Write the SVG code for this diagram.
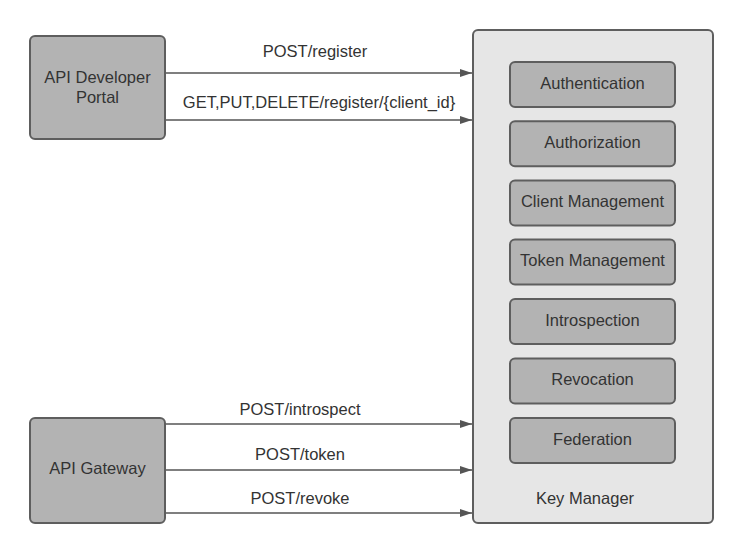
<svg xmlns="http://www.w3.org/2000/svg" width="743" height="554" viewBox="0 0 743 554">
<defs>
<style>
.box{fill:#b3b3b3;stroke:#5e5e5e;stroke-width:2}
.inner{fill:#b3b3b3;stroke:#5e5e5e;stroke-width:2}
.outer{fill:#e6e6e6;stroke:#5e5e5e;stroke-width:2}
text{font-family:"Liberation Sans",Arial,sans-serif;font-size:16.5px;fill:#333333;text-anchor:middle}
.conn{stroke:#555555;stroke-width:1.5;fill:none;marker-end:url(#arr)}
</style>
<marker id="arr" viewBox="0 0 12 8" refX="12" refY="4" markerWidth="12" markerHeight="8" markerUnits="userSpaceOnUse" orient="auto">
<path d="M0,0 L12,4 L0,8 Z" fill="#555555"/>
</marker>
</defs>
<rect width="743" height="554" fill="#ffffff"/>
<g id="key-manager">
<rect class="outer" x="473" y="30" width="240" height="493" rx="5"/>
<text x="585" y="504">Key Manager</text>
</g>
<g id="authentication"><rect class="inner" x="510" y="62" width="165" height="45" rx="5"/><text x="592.5" y="89">Authentication</text></g>
<g id="authorization"><rect class="inner" x="510" y="121.3" width="165" height="45" rx="5"/><text x="592.5" y="148">Authorization</text></g>
<g id="client-management"><rect class="inner" x="510" y="180.6" width="165" height="45" rx="5"/><text x="592.5" y="207">Client Management</text></g>
<g id="token-management"><rect class="inner" x="510" y="239.5" width="165" height="45" rx="5"/><text x="592.5" y="266">Token Management</text></g>
<g id="introspection"><rect class="inner" x="510" y="299" width="165" height="45" rx="5"/><text x="592.5" y="326">Introspection</text></g>
<g id="revocation"><rect class="inner" x="510" y="358.5" width="165" height="45" rx="5"/><text x="592.5" y="385">Revocation</text></g>
<g id="federation"><rect class="inner" x="510" y="418" width="165" height="45" rx="5"/><text x="592.5" y="445">Federation</text></g>
<g id="api-developer-portal">
<rect class="box" x="30" y="36" width="135" height="103" rx="5"/>
<text x="97.5" y="83">API Developer</text>
<text x="97.5" y="103">Portal</text>
</g>
<g id="api-gateway">
<rect class="box" x="30" y="418" width="135" height="105" rx="5"/>
<text x="97.5" y="474">API Gateway</text>
</g>
<g id="connectors">
<line class="conn" x1="166" y1="73" x2="472" y2="73"/>
<text x="315" y="57">POST/register</text>
<line class="conn" x1="166" y1="120" x2="472" y2="120"/>
<text x="319" y="108">GET,PUT,DELETE/register/{client_id}</text>
<line class="conn" x1="166" y1="424" x2="472" y2="424"/>
<text x="300" y="415">POST/introspect</text>
<line class="conn" x1="166" y1="470" x2="472" y2="470"/>
<text x="300" y="460">POST/token</text>
<line class="conn" x1="166" y1="513" x2="472" y2="513"/>
<text x="300" y="504">POST/revoke</text>
</g>
</svg>
